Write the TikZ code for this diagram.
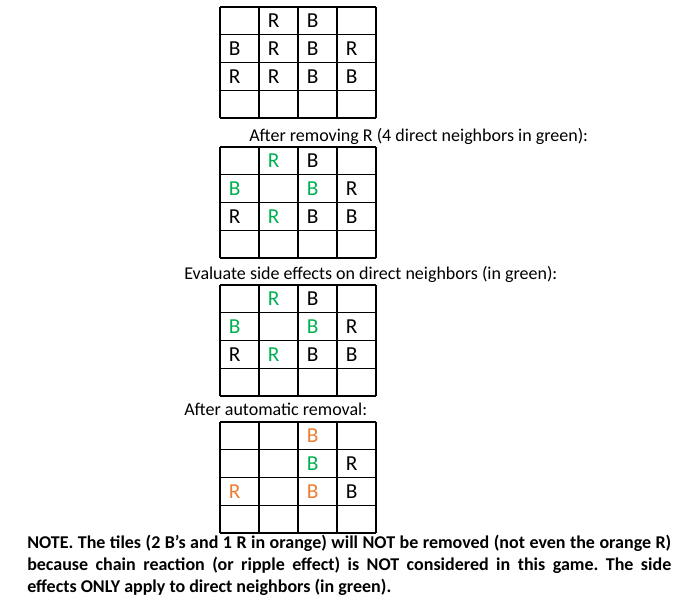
\documentclass[tikz,border=0pt]{standalone}
\usepackage{fontspec}
\setmainfont{Carlito}
\usetikzlibrary{positioning}
\frenchspacing

\definecolor{tilegreen}{RGB}{0,176,80}
\definecolor{tileorange}{RGB}{237,125,49}

\tikzset{
  gridline/.style={line width=1.1pt, black},
  tile/.style={anchor=west, inner sep=0pt, font=\fontsize{16}{18}\selectfont},
  caption/.style={anchor=base west, inner sep=0pt, font=\fontsize{13.5}{16.5}\selectfont},
  notetext/.style={anchor=north west, inner sep=0pt, text width=483pt, align=justify,
    font=\fontsize{13.5}{16.5}\selectfont\bfseries}
}

% #1 name, #2 top edge, #3 entries col/row/letter/colour
\newcommand{\tilegrid}[3]{
  \foreach \i in {0,...,4} {
    \draw[gridline] (220+39*\i,#2) -- (220+39*\i,#2+111);
    \draw[gridline] (220,#2+27.75*\i) -- (376,#2+27.75*\i);
  }
  \foreach \c/\r/\t/\col in {#3}
    \node[tile,text=\col] (#1-\c-\r) at (189.5+39*\c,#2-13.9+27.75*\r) {\t};
}

\begin{document}
\begin{tikzpicture}[x=0.75pt,y=-0.75pt]
    \useasboundingbox (0,0) rectangle (679,600);

    % start position
    \tilegrid{g1}{7}{2/1/R/black, 3/1/B/black,
      1/2/B/black, 2/2/R/black, 3/2/B/black, 4/2/R/black,
      1/3/R/black, 2/3/R/black, 3/3/B/black, 4/3/B/black}

    \node[caption] (cap2) at (249,141) {After removing R (4 direct neighbors in green):};
    \tilegrid{g2}{147}{2/1/R/tilegreen, 3/1/B/black,
      1/2/B/tilegreen, 3/2/B/tilegreen, 4/2/R/black,
      1/3/R/black, 2/3/R/tilegreen, 3/3/B/black, 4/3/B/black}

    \node[caption] (cap3) at (184,279) {Evaluate side effects on direct neighbors (in green):};
    \tilegrid{g3}{285}{2/1/R/tilegreen, 3/1/B/black,
      1/2/B/tilegreen, 3/2/B/tilegreen, 4/2/R/black,
      1/3/R/black, 2/3/R/tilegreen, 3/3/B/black, 4/3/B/black}

    \node[caption] (cap4) at (184,415) {After automatic removal:};
    \tilegrid{g4}{422}{3/1/B/tileorange,
      3/2/B/tilegreen, 4/2/R/black,
      1/3/R/tileorange, 3/3/B/tileorange, 4/3/B/black}

    \node[notetext] (note) at (27,535) {\hyphenpenalty=10000 NOTE. The tiles (2 B’s and 1 R in orange) will NOT be removed (not even the orange~R)\linebreak because chain reaction (or ripple effect) is NOT considered in this game. The side\linebreak effects ONLY apply to direct neighbors (in green).};
\end{tikzpicture}
\end{document}
